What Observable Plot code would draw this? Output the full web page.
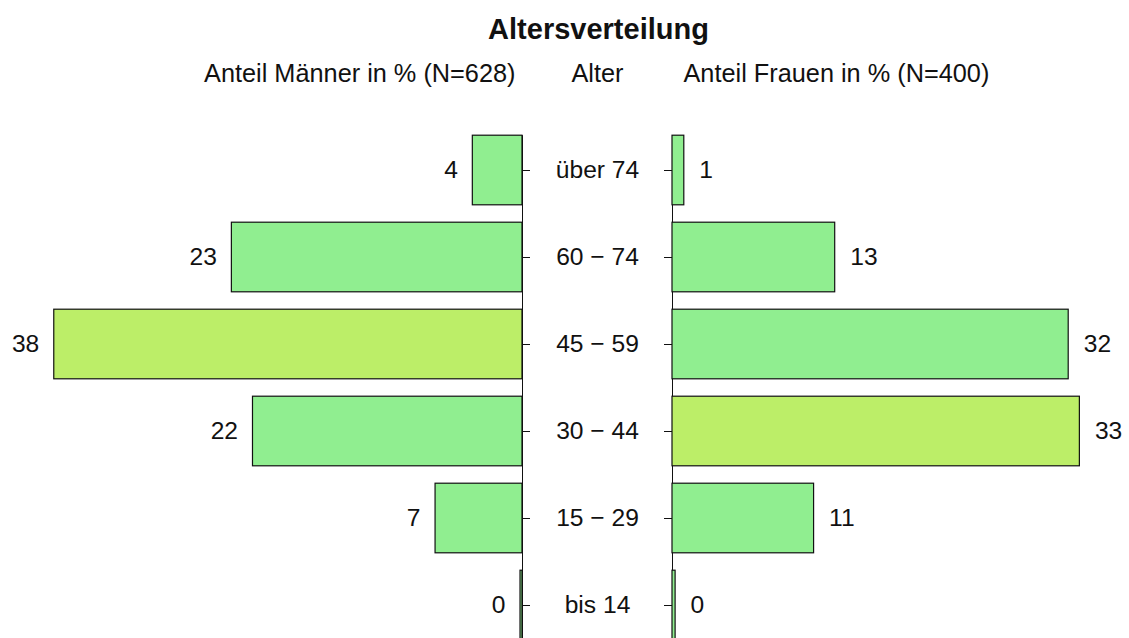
<!DOCTYPE html>
<html><head><meta charset="utf-8">
<script src="https://cdn.jsdelivr.net/npm/d3@7"></script>
<script src="https://cdn.jsdelivr.net/npm/@observablehq/plot@0.6"></script>
<style>html,body{margin:0;padding:0;overflow:hidden;background:#fff}</style>
</head><body><div id="chart"></div>
<script>
const title = "Altersverteilung";
const headerMen = "Anteil Männer in % (N=628)";
const headerAge = "Alter";
const headerWomen = "Anteil Frauen in % (N=400)";
const ages = ["über 74", "60 − 74", "45 − 59", "30 − 44", "15 − 29", "bis 14"];
const men = [4.0, 23.4, 37.7, 21.7, 7.0, 0.16];
const women = [0.95, 13.1, 31.9, 32.8, 11.4, 0.25];

const W = 1129, H = 650;
const pxPerUnit = 12.42;
const centerPx = 597;
const half = 75 / pxPerUnit;      // half of the central gap, in value units
const tickLen = 8 / pxPerUnit;
const colNormal = "#90EE90", colMax = "#BCEE68";
const ink = "#111";
const maxMen = d3.max(men), maxWomen = d3.max(women);

const mRows = ages.map((age, i) => ({age, v: men[i], x1: -half, x2: -half - men[i], fill: men[i] === maxMen ? colMax : colNormal}));
const wRows = ages.map((age, i) => ({age, v: women[i], x1: half, x2: half + women[i], fill: women[i] === maxWomen ? colMax : colNormal}));
const headers = [
  {x: 0, t: title, dy: -109, size: 29, weight: "bold", anchor: "middle", dx: 1},
  {x: -half, t: headerMen, dy: -63, size: 25.3, weight: "normal", anchor: "end", dx: -7},
  {x: 0, t: headerAge, dy: -63, size: 25.3, weight: "normal", anchor: "middle", dx: 0},
  {x: half, t: headerWomen, dy: -63, size: 25.3, weight: "normal", anchor: "start", dx: 11}
];

const xmin = -centerPx / pxPerUnit, xmax = (W - centerPx) / pxPerUnit;

const chart = Plot.plot({
  width: W, height: H,
  marginLeft: 0, marginRight: 0, marginTop: 126.5, marginBottom: 1.5,
  style: {fontFamily: "'Liberation Sans', Arial, sans-serif", background: "#fff", color: ink},
  x: {domain: [xmin, xmax], axis: null},
  y: {domain: ages, paddingInner: 0.2, paddingOuter: 0.1, axis: null, round: false},
  color: {type: "identity"},
  marks: [
    Plot.ruleX([-half, half], {x: d => d, y1: () => ages[0], y2: () => ages[ages.length - 1], stroke: ink, strokeWidth: 1}),
    Plot.barX(mRows, {y: "age", x1: "x1", x2: "x2", fill: "fill", stroke: ink, strokeWidth: 1.2}),
    Plot.barX(wRows, {y: "age", x1: "x1", x2: "x2", fill: "fill", stroke: ink, strokeWidth: 1.2}),
    Plot.ruleY(mRows, {y: "age", x1: -half, x2: -half + tickLen, stroke: ink, strokeWidth: 1}),
    Plot.ruleY(wRows, {y: "age", x1: half - tickLen, x2: half, stroke: ink, strokeWidth: 1}),
    Plot.text(mRows, {y: "age", x: 0, text: "age", fontSize: 24.6, fill: ink, textAnchor: "middle"}),
    Plot.text(mRows, {y: "age", x: "x2", text: d => String(Math.round(d.v)), fontSize: 24.6, fill: ink, textAnchor: "end", dx: -15}),
    Plot.text(wRows, {y: "age", x: "x2", text: d => String(Math.round(d.v)), fontSize: 24.6, fill: ink, textAnchor: "start", dx: 15}),
    ...headers.map(h => Plot.text([h], {x: "x", text: "t", frameAnchor: "top", dy: h.dy, dx: h.dx, fontSize: h.size, fontWeight: h.weight, textAnchor: h.anchor, fill: ink}))
  ]
});
document.getElementById("chart").appendChild(chart);
</script>
</body></html>
